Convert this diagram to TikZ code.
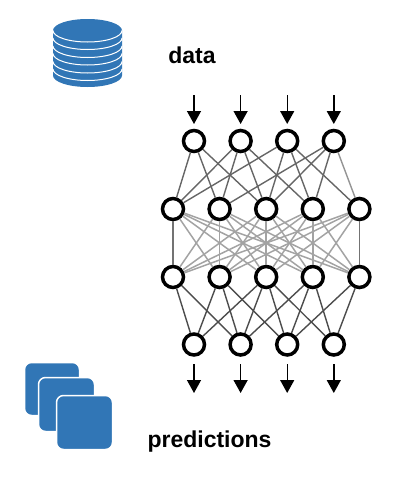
\documentclass[tikz,border=0pt]{standalone}
\usepackage{fontspec}
\setmainfont{Liberation Sans}
\usetikzlibrary{positioning}
\usetikzlibrary{arrows.meta}
\definecolor{iconblue}{RGB}{49,118,182}
\tikzstyle{neuron} = [
        circle, draw, fill=white,
        line width=3.5pt, minimum size=21pt, inner sep=0pt
    ]
\tikzstyle{caption} = [
        anchor=base, inner sep=0pt,
        font=\fontsize{23}{23}\selectfont\bfseries
    ]
\tikzstyle{card} = [
        rectangle, draw=white, fill=iconblue, line width=1.5pt,
        rounded corners=7pt, minimum width=56pt, minimum height=55pt
    ]
\tikzstyle{line} = [draw, line width=1.4pt, -{Triangle[length=13pt,width=14pt]}]
\tikzstyle{upper} = [draw, line width=1.4pt, black!60]
\tikzstyle{mesh} = [draw, line width=1.5pt, black!36]
\tikzstyle{lower} = [draw, line width=1.4pt, black!70]

\begin{document}
\begin{tikzpicture}[x=1pt, y=-1pt, node distance=46.6pt]
    \useasboundingbox (0,0) rectangle (418,482);

    % database icon
    \fill [iconblue] (53,30.5) -- (53,75.5) arc [start angle=180, end angle=0, x radius=34.5, y radius=11.5]
        -- (122,30.5) arc [start angle=0, end angle=-180, x radius=34.5, y radius=11.5] -- cycle;
    \foreach \y in {30.5,38,46,53.5,61.5,69}
        \draw [white, line width=1pt] (53,\y) arc [start angle=180, end angle=0, x radius=34.5, y radius=11.5];

    % stacked cards
    \node [card, minimum width=55pt, minimum height=53pt] (card1) at (52,389) {};
    \node [card, minimum height=54pt] (card2) at (66.5,404.5) {};
    \node [card, minimum height=54pt] (card3) at (84.5,422.5) {};

    \node [caption] (data) at (192,63) {data};
    \node [caption] (predictions) at (209.5,447) {predictions};

    % input layer
    \node [neuron] (a1) at (194,141) {};
    \node [neuron, right of=a1] (a2) {};
    \node [neuron, right of=a2] (a3) {};
    \node [neuron, right of=a3] (a4) {};
    % hidden layers
    \node [neuron] (b1) at (173,209) {};
    \node [neuron, right of=b1] (b2) {};
    \node [neuron, right of=b2] (b3) {};
    \node [neuron, right of=b3] (b4) {};
    \node [neuron, right of=b4] (b5) {};
    \node [neuron] (c1) at (173,277) {};
    \node [neuron, right of=c1] (c2) {};
    \node [neuron, right of=c2] (c3) {};
    \node [neuron, right of=c3] (c4) {};
    \node [neuron, right of=c4] (c5) {};
    % output layer
    \node [neuron] (d1) at (194,344.5) {};
    \node [neuron, right of=d1] (d2) {};
    \node [neuron, right of=d2] (d3) {};
    \node [neuron, right of=d3] (d4) {};

    \foreach \n in {1,2,3,4} {
        \coordinate [above=46pt of a\n.center] (in\n);
        \coordinate [above=17pt of a\n.center] (top\n);
        \coordinate [below=19.5pt of d\n.center] (out\n);
        \coordinate [below=48.5pt of d\n.center] (end\n);
        \path [line] (in\n) -- (top\n);
        \path [line] (out\n) -- (end\n);
    }

    \foreach \s/\t in {a1/b1,a1/b2,a1/b3,a2/b1,a2/b2,a2/b3,a2/b4,a3/b1,a3/b3,a3/b4,a3/b5,a4/b2,a4/b3,a4/b4}
        \path [upper] (\s) -- (\t);
    \path [upper, black!42] (a4) -- (b5);

    \foreach \s in {1,...,5}
        \foreach \t in {1,...,5}
            \path [mesh] (b\s) -- (c\t);
    \path [mesh, black!55] (b1) -- (c1);
    \path [mesh, black!55] (b5) -- (c5);

    \foreach \s/\t in {c1/d1,c1/d2,c2/d1,c2/d2,c2/d3,c3/d1,c3/d2,c3/d3,c3/d4,c4/d2,c4/d3,c4/d4,c5/d3,c5/d4}
        \path [lower] (\s) -- (\t);
\end{tikzpicture}
\end{document}
